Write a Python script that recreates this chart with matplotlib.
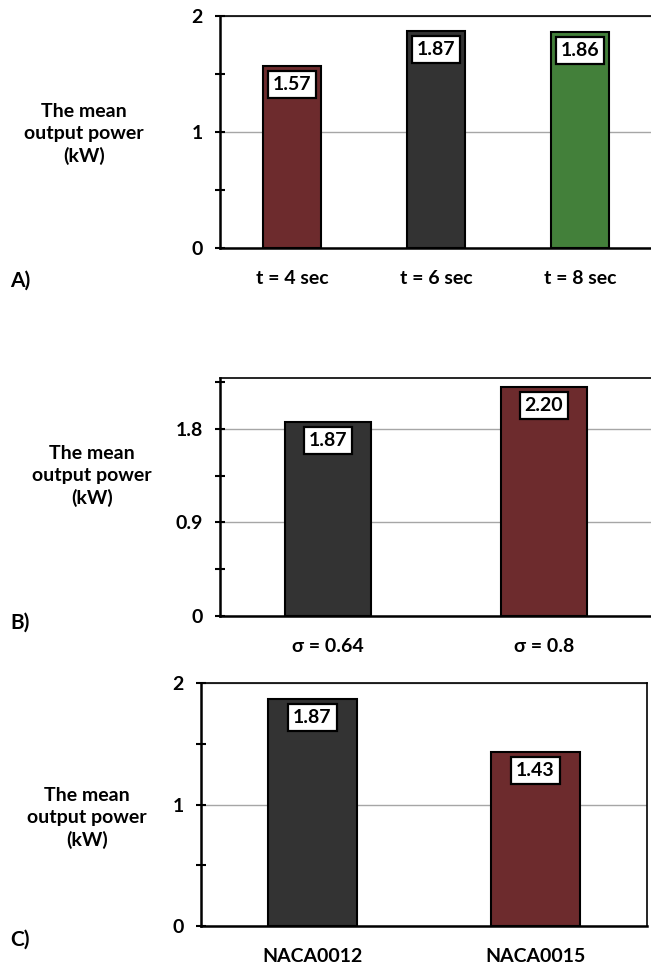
import matplotlib
matplotlib.use("Agg")
import matplotlib.pyplot as plt
from matplotlib.ticker import MultipleLocator

plt.rcParams['font.family'] = ['Lato', 'DejaVu Sans']
plt.rcParams['font.weight'] = 'bold'

# Data
cats_a = ["t = 4 sec", "t = 6 sec", "t = 8 sec"]
vals_a = [1.57, 1.87, 1.86]
cats_b = ["σ = 0.64", "σ = 0.8"]
vals_b = [1.87, 2.20]
cats_c = ["NACA0012", "NACA0015"]
vals_c = [1.87, 1.43]

RED = "#6D2B2D"
GRAY = "#333333"
GREEN = "#43803A"
cols_a = [RED, GRAY, GREEN]
cols_b = [GRAY, RED]
cols_c = [GRAY, RED]

FS = 14
W, H = 651, 964
fig = plt.figure(figsize=(W / 100, H / 100), dpi=100)


def fr(px_left, px_top, px_right, px_bottom):
    return [px_left / W, 1 - px_bottom / H, (px_right - px_left) / W, (px_bottom - px_top) / H]


def panel(rect, cats, vals, cols, ymax, major, minor, fmt, right_spine, letter, letter_y, ylab_xy):
    ax = fig.add_axes(rect)
    x = list(range(len(cats)))
    ax.bar(x, vals, width=0.40, color=cols, edgecolor="black", linewidth=1.5, zorder=3)
    ax.set_xlim(-0.5, len(cats) - 0.5)
    ax.set_ylim(0, ymax)
    ax.yaxis.set_major_locator(MultipleLocator(major))
    ax.yaxis.set_minor_locator(MultipleLocator(minor))
    ax.yaxis.set_major_formatter(plt.FuncFormatter(lambda v, p: fmt(v)))
    ax.grid(axis="y", which="major", color="#A6A6A6", linewidth=1.0, zorder=0)
    ax.set_axisbelow(True)
    ax.set_xticks(x)
    ax.set_xticklabels(cats, fontsize=FS, fontweight="bold")
    ax.tick_params(axis="x", length=0, pad=15.5)
    ax.tick_params(axis="y", which="both", direction="inout", length=7, width=1.5,
                   labelsize=FS, pad=9)
    for lab in ax.get_yticklabels():
        lab.set_fontweight("bold")
    for s in ("left", "bottom"):
        ax.spines[s].set_linewidth(1.8)
    ax.spines["top"].set_linewidth(1.2)
    if right_spine:
        ax.spines["right"].set_linewidth(1.2)
    else:
        ax.spines["right"].set_visible(False)
    for xi, v in zip(x, vals):
        ax.annotate(f"{v:.2f}", xy=(xi, v), xytext=(0, -18.5), textcoords="offset pixels",
                    ha="center", va="center", fontsize=FS, fontweight="bold", zorder=5,
                    bbox=dict(boxstyle="square,pad=0.25", facecolor="white",
                              edgecolor="black", linewidth=1.6))
    fig.text(10 / W, 1 - letter_y / H, letter, ha="left", va="center",
             fontsize=15, fontweight="bold")
    fig.text(ylab_xy[0] / W, 1 - ylab_xy[1] / H, "The mean\noutput power\n(kW)",
             ha="center", va="center", fontsize=FS, fontweight="bold", linespacing=1.35)
    return ax


panel(fr(220, 16, 652, 248), cats_a, vals_a, cols_a, 2.0, 1.0, 0.5,
      lambda v: f"{v:g}", False, "A)", 281, (84, 134))
panel(fr(220, 378, 652, 616), cats_b, vals_b, cols_b, 2.29, 0.9, 0.45,
      lambda v: "0" if abs(v) < 1e-9 else f"{v:.1f}", False, "B)", 623, (92, 476))
panel(fr(201, 683, 647, 926), cats_c, vals_c, cols_c, 2.0, 1.0, 0.5,
      lambda v: f"{v:g}", True, "C)", 940, (87, 818))

fig.savefig("out.png", dpi=100)
